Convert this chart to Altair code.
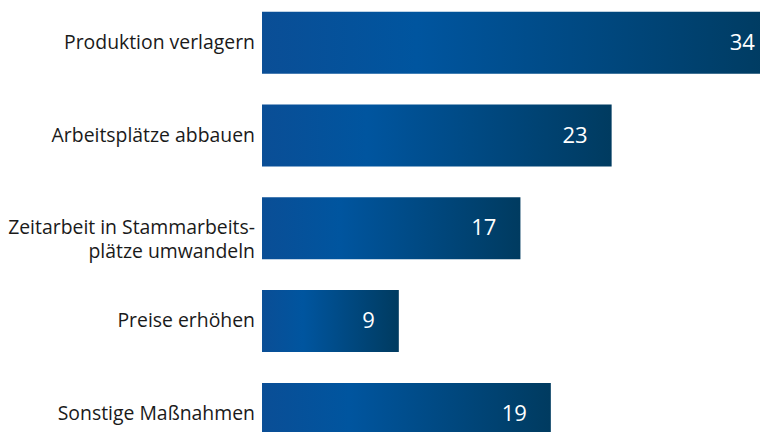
import altair as alt
import pandas as pd

categories = [
    "Produktion verlagern",
    "Arbeitsplätze abbauen",
    "Zeitarbeit in Stammarbeits-\nplätze umwandeln",
    "Preise erhöhen",
    "Sonstige Maßnahmen",
]
values = [34, 23, 17, 9, 19]
order = [0, 1, 2, 3, 4]

df = pd.DataFrame({"cat": categories, "value": values, "idx": order})
df["lo"] = df["idx"] - 0.334
df["hi"] = df["idx"] + 0.334
df["zero"] = 0

xscale = alt.Scale(domain=[-16.71, 32.76], nice=False, zero=False)
yscale = alt.Scale(domain=[-0.374, 4.195], nice=False, zero=False, reverse=True)

grad = alt.Gradient(
    gradient="linear",
    x1=0, x2=1, y1=0, y2=0,
    stops=[
        alt.GradientStop(color="#0a4e96", offset=0),
        alt.GradientStop(color="#00559f", offset=0.3),
        alt.GradientStop(color="#003b60", offset=1),
    ],
)

base = alt.Chart(df)

bars = base.mark_rect(clip=True, color=grad).encode(
    x=alt.X("zero:Q", scale=xscale, axis=None),
    x2="value:Q",
    y=alt.Y("lo:Q", scale=yscale, axis=None),
    y2="hi:Q",
)

cat_labels = base.mark_text(
    align="right", baseline="middle", dx=-7, lineBreak="\n",
    font="Open Sans", fontSize=19.4, color="#1a1a1a", lineHeight=24,
).encode(
    x=alt.X("zero:Q", scale=xscale, axis=None),
    y=alt.Y("idx:Q", scale=yscale, axis=None),
    text="cat:N",
)

val_labels = base.mark_text(
    align="right", baseline="middle", dx=-24,
    font="Open Sans", fontSize=22, color="white",
).encode(
    x=alt.X("value:Q", scale=xscale, axis=None),
    y=alt.Y("idx:Q", scale=yscale, axis=None),
    text="value:Q",
)

chart = alt.layer(bars, cat_labels, val_labels).properties(
    width=752, height=424, padding=0, autosize="none"
).configure_view(stroke=None)

chart.save("out.html", embed_options={"renderer": "svg", "actions": False})
